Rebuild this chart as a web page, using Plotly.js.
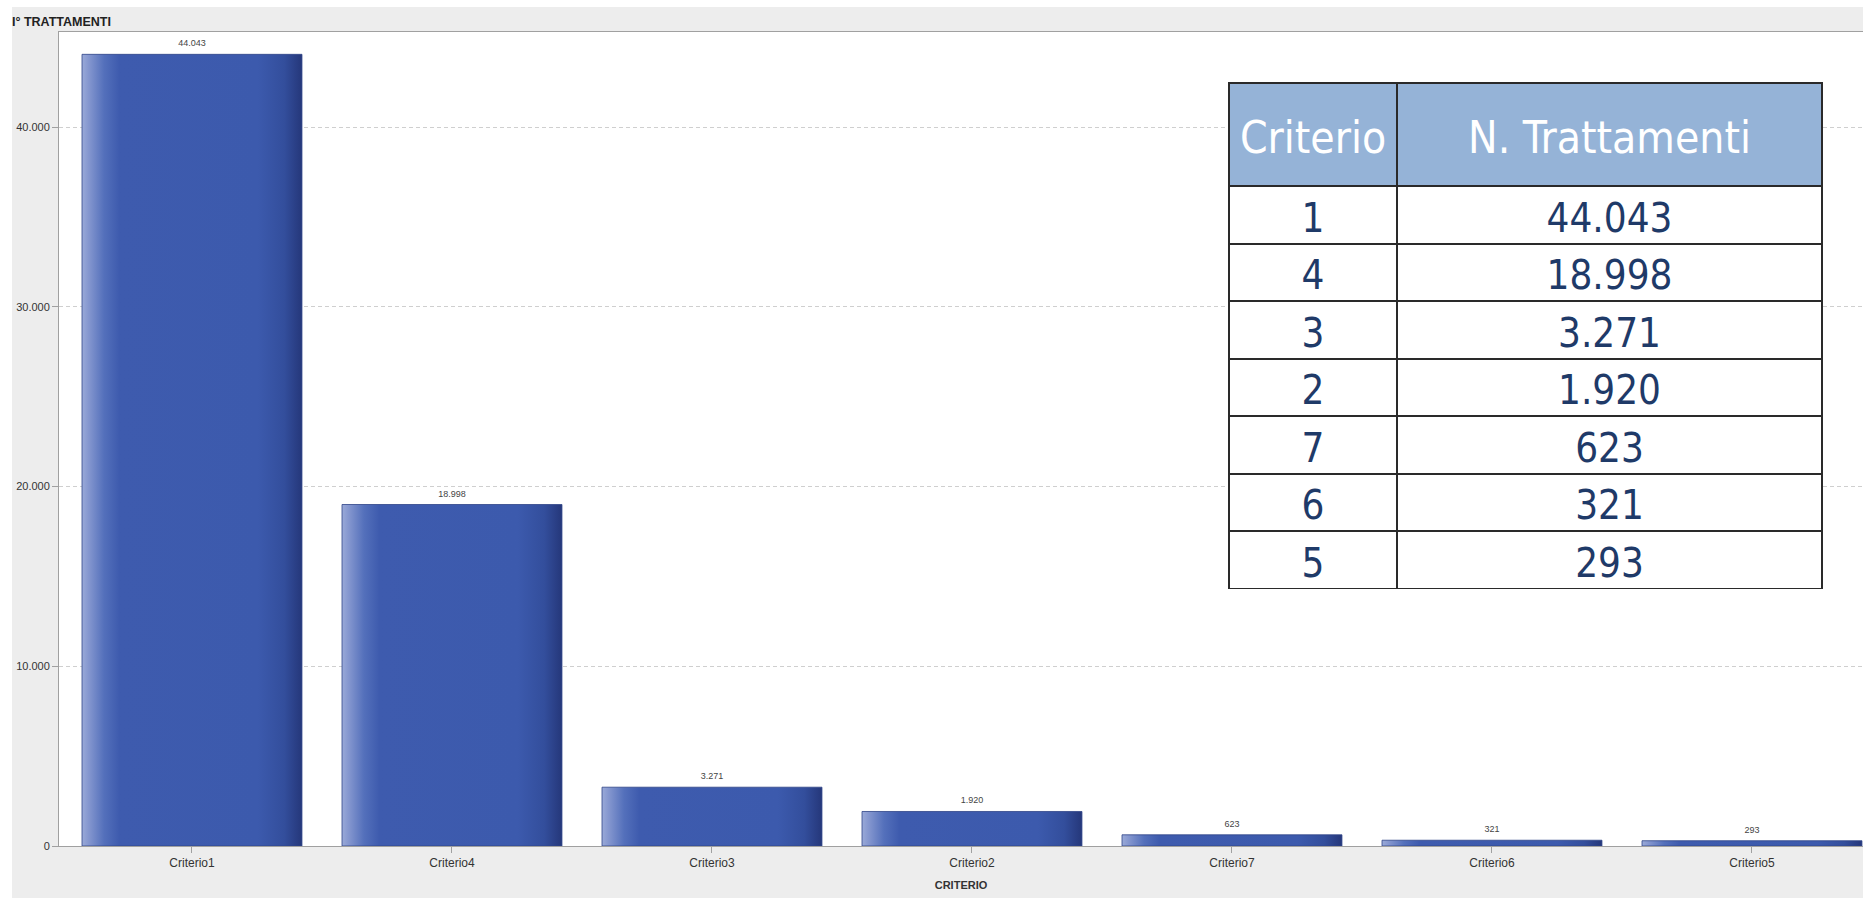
<!DOCTYPE html>
<html><head><meta charset="utf-8">
<script src="https://cdn.plot.ly/plotly-3.0.1.min.js"></script>
<style>html,body{margin:0;padding:0;background:#ededed;}#chart{width:1863px;height:898px;}</style>
</head><body><div id="chart"></div>
<script>
// ---- data ----
const criteria = [1, 4, 3, 2, 7, 6, 5];
const categories = ['Criterio1', 'Criterio4', 'Criterio3', 'Criterio2', 'Criterio7', 'Criterio6', 'Criterio5'];
const counts = [44043, 18998, 3271, 1920, 623, 321, 293];
const yTickVals = [0, 10000, 20000, 30000, 40000];
const tableHeader = ['Criterio', 'N. Trattamenti'];

function fmtIt(v) { return String(v).replace(/\B(?=(\d{3})+(?!\d))/g, '.'); }

const W = 1863, H = 898, ML = 59, MR = 0, MT = 32, MB = 52;
const PW = W - ML - MR, PH = H - MT - MB;
const px2x = p => (p - ML) / PW;
const py2y = p => (H - MB - p) / PH;

const bar = {
  type: 'bar',
  x: categories,
  y: counts,
  width: 0.846,
  marker: { color: '#3c5aad', line: { color: '#2f4488', width: 0.8 } },
  texttemplate: '%{y:,d}',
  textposition: 'outside',
  cliponaxis: false,
  textfont: { family: 'Liberation Sans, Arial, sans-serif', size: 9, color: '#444' },
  hoverinfo: 'skip',
  showlegend: false
};

const table = {
  type: 'table',
  domain: { x: [px2x(1229), px2x(1822)], y: [py2y(589), py2y(83)] },
  columnwidth: [168, 425],
  header: {
    values: tableHeader,
    align: 'center',
    height: 103,
    fill: { color: '#95b3d7' },
    line: { color: '#2a2a2a', width: 2 },
    font: { family: 'DejaVu Sans Condensed, DejaVu Sans, sans-serif', size: 44, color: '#ffffff' }
  },
  cells: {
    values: [criteria.map(String), counts.map(fmtIt)],
    align: 'center',
    height: 57.5,
    fill: { color: '#ffffff' },
    line: { color: '#2a2a2a', width: 2 },
    font: { family: 'DejaVu Sans Condensed, DejaVu Sans, sans-serif', size: 40, color: '#1f3a68' }
  }
};

const layout = {
  width: W, height: H,
  margin: { l: ML, r: MR, t: MT, b: MB, pad: 0 },
  paper_bgcolor: '#ededed',
  plot_bgcolor: '#ffffff',
  separators: ',.',
  font: { family: 'Liberation Sans, Arial, sans-serif', color: '#333' },
  title: {
    text: 'I° TRATTAMENTI',
    xref: 'container', yref: 'container',
    x: 12 / W, xanchor: 'left',
    y: 1 - 22 / H, yanchor: 'middle',
    font: { family: 'Liberation Sans, Arial, sans-serif', size: 12.5, weight: 700, color: '#222' }
  },
  xaxis: {
    type: 'category',
    range: [-0.5115, 6.427],
    showline: true, linecolor: '#a0a0a0', linewidth: 1, mirror: true,
    ticks: 'outside', ticklen: 6, tickcolor: '#a0a0a0',
    tickfont: { size: 12, color: '#333' },
    showgrid: false, zeroline: false,
    title: { text: 'CRITERIO', standoff: 11, font: { size: 11, weight: 700, color: '#333' } },
    fixedrange: true
  },
  yaxis: {
    range: [0, 45285],
    tickvals: yTickVals,
    tickformat: ',d',
    showline: true, linecolor: '#a0a0a0', linewidth: 1,
    ticks: 'outside', ticklen: 6, tickcolor: '#a0a0a0',
    tickfont: { size: 11, color: '#333' },
    showgrid: true, gridcolor: '#cfcfcf', griddash: '4px,3px', gridwidth: 1,
    zeroline: false,
    fixedrange: true
  },
  shapes: [
    { type: 'rect', xref: 'paper', yref: 'paper', layer: 'below',
      x0: px2x(0), x1: px2x(W), y0: py2y(7), y1: py2y(0), line: { width: 0 }, fillcolor: '#ffffff' },
    { type: 'rect', xref: 'paper', yref: 'paper', layer: 'below',
      x0: px2x(0), x1: px2x(12), y0: py2y(H), y1: py2y(0), line: { width: 0 }, fillcolor: '#ffffff' }
  ]
};

function prependShift(el, dx, dy) {
  const old = el.getAttribute('transform') || '';
  el.setAttribute('transform', 'translate(' + dx + ',' + dy + ') ' + old);
}

Plotly.newPlot('chart', [bar, table], layout, { displayModeBar: false, staticPlot: true }).then(function (gd) {
  const svg = gd.querySelector('svg.main-svg');
  const NS = 'http://www.w3.org/2000/svg';
  let defs = svg.querySelector('defs');
  if (!defs) { defs = document.createElementNS(NS, 'defs'); svg.insertBefore(defs, svg.firstChild); }
  const grad = document.createElementNS(NS, 'linearGradient');
  grad.setAttribute('id', 'barGradH');
  grad.setAttribute('x1', '0'); grad.setAttribute('x2', '1');
  grad.setAttribute('y1', '0'); grad.setAttribute('y2', '0');
  [['0%', '#9aaad8'], ['3%', '#8597cf'], ['10%', '#5470bb'], ['17%', '#3e5bae'],
   ['80%', '#3c5aad'], ['92%', '#334e9c'], ['100%', '#25377a']].forEach(function (s) {
    const st = document.createElementNS(NS, 'stop');
    st.setAttribute('offset', s[0]); st.setAttribute('stop-color', s[1]);
    grad.appendChild(st);
  });
  defs.appendChild(grad);
  gd.querySelectorAll('.bars .point path').forEach(function (p) { p.style.fill = 'url(#barGradH)'; });
  gd.querySelectorAll('.bars .point text').forEach(function (t) { prependShift(t, 0, -3); });

  // vertically centre the table texts inside their cells
  gd.querySelectorAll('.table .cell-text').forEach(function (t) {
    let g = t.parentNode, rect = null;
    while (g && g !== gd) {
      rect = g.querySelector ? g.querySelector(':scope > rect.cell-rect') : null;
      if (rect) break;
      g = g.parentNode;
    }
    if (!rect) return;
    const rb = rect.getBoundingClientRect();
    const tb = t.getBoundingClientRect();
    const dy = (rb.top + rb.bottom) / 2 - (tb.top + tb.bottom) / 2 + 3;
    prependShift(t, 0, dy);
  });
});
</script>
</body></html>
